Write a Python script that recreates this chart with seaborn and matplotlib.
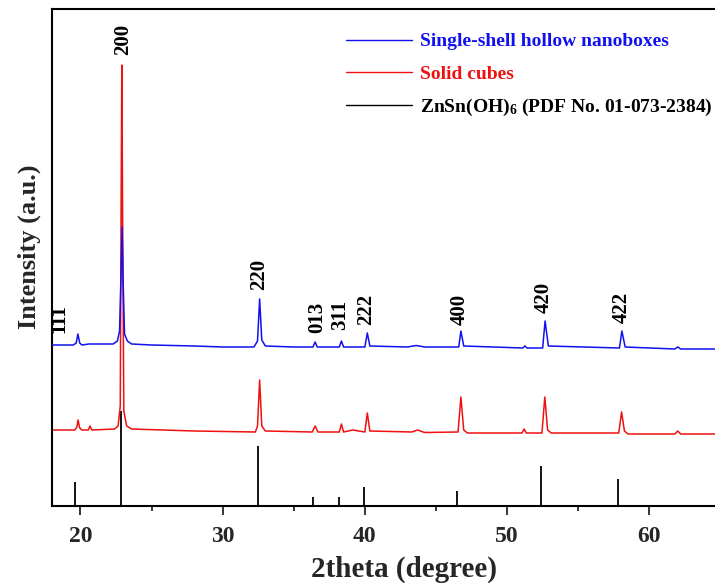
import numpy as np
import pandas as pd
import matplotlib
matplotlib.use("Agg")
import matplotlib.pyplot as plt
from matplotlib.lines import Line2D
from matplotlib.ticker import MultipleLocator
import seaborn as sns

# ---- data (intensity in arbitrary units) ----
blue_x = [18.0, 19.5, 19.7, 19.82, 19.95, 20.1, 20.6, 22.3, 22.6, 22.75, 22.85, 22.93,
          23.0, 23.1, 23.3, 23.6, 25.0, 28.0, 30.0, 32.2, 32.45, 32.6, 32.75, 33.0,
          35.0, 36.35, 36.5, 36.65, 38.2, 38.35, 38.5, 40.0, 40.17, 40.35, 43.0, 43.6,
          44.2, 46.6, 46.75, 46.95, 51.1, 51.25, 51.4, 52.5, 52.67, 52.9, 57.9, 58.07,
          58.3, 61.8, 62.0, 62.2, 67.5]
blue_y = [161, 161, 163, 172, 163, 161, 162, 162, 165, 175, 230, 279,
          225, 172, 165, 162, 161, 160, 159, 159, 165, 207, 166, 160,
          159, 159, 164, 159, 159, 165, 159, 159, 173, 160, 159, 160.5,
          159, 159, 175, 160, 158, 160, 158, 158, 185, 160, 158, 175,
          159, 157, 159, 157, 157]

red_x = [18.0, 19.6, 19.75, 19.83, 19.95, 20.1, 20.55, 20.67, 20.8, 22.4, 22.65, 22.8,
         22.86, 22.91, 22.96, 23.05, 23.25, 23.6, 28.0, 32.3, 32.45, 32.6, 32.75, 33.0,
         36.3, 36.5, 36.7, 38.2, 38.35, 38.5, 39.15, 40.0, 40.17, 40.35, 43.3, 43.7,
         44.2, 46.55, 46.75, 46.95, 47.2, 51.05, 51.2, 51.35, 52.45, 52.65, 52.85, 53.1,
         57.85, 58.05, 58.25, 58.5, 61.8, 62.0, 62.2, 67.5]
red_y = [76, 76, 79, 86, 78, 76, 76, 80, 76, 77, 80, 100,
         300, 441, 300, 95, 80, 77, 75, 74, 80, 126, 80, 75,
         74, 80, 74, 74, 82, 74, 76, 74, 93, 75, 74, 76,
         73.5, 74, 109, 76, 73, 73, 77, 73, 73, 109, 76, 73,
         73, 94, 75, 72, 72, 75, 72, 72]

pdf_pos = [19.6, 22.85, 32.45, 36.35, 38.15, 39.95, 46.5, 52.35, 57.8]
pdf_int = [24, 95, 60, 9, 9, 19, 15, 40, 27]

hkl_labels = ["111", "200", "220", "013", "311", "222", "400", "420", "422"]
hkl_x = [18.53, 22.99, 32.53, 36.64, 38.23, 40.11, 46.64, 52.6, 58.08]
hkl_y = [173, 451, 216, 173, 176, 181, 181, 193, 183]

series_names = ["Single-shell hollow nanoboxes", "Solid cubes",
                "ZnSn(OH)$_6$ (PDF No. 01-073-2384)"]
series_colors = ["#1010f0", "#f01010", "black"]

sns.set_theme(style="ticks")
plt.rcParams["font.family"] = ["Liberation Serif", "DejaVu Serif"]
plt.rcParams["font.weight"] = "bold"
plt.rcParams["mathtext.fontset"] = "custom"
plt.rcParams["mathtext.rm"] = "Liberation Serif:bold"
plt.rcParams["mathtext.it"] = "Liberation Serif:bold"
plt.rcParams["mathtext.bf"] = "Liberation Serif:bold"

fig = plt.figure(figsize=(7.15, 5.83), dpi=100)
ax = fig.add_axes([52 / 715, 77 / 583, 704 / 715, 497 / 583])

blue_df = pd.DataFrame({"x": blue_x, "y": blue_y})
red_df = pd.DataFrame({"x": red_x, "y": red_y})

ax.vlines(pdf_pos, 0, pdf_int, color="black", lw=1.3, zorder=1)
sns.lineplot(data=red_df, x="x", y="y", color=series_colors[1], lw=1.1,
             estimator=None, sort=False, ax=ax, zorder=2)
sns.lineplot(data=blue_df, x="x", y="y", color=series_colors[0], lw=1.1,
             estimator=None, sort=False, ax=ax, zorder=3)

for lab, lx, ly in zip(hkl_labels, hkl_x, hkl_y):
    ax.text(lx, ly, lab, rotation=90, ha="center", va="bottom",
            fontsize=15, fontweight="bold", color="black")

ax.set_xlim(18, 67.5)
ax.set_ylim(0, 497)
ax.xaxis.set_major_locator(MultipleLocator(10))
ax.xaxis.set_minor_locator(MultipleLocator(5))
ax.set_yticks([])
ax.tick_params(axis="x", which="major", direction="out", length=6.5, width=1.3,
               labelsize=17, pad=8)
ax.tick_params(axis="x", which="minor", direction="out", length=3.5, width=1.3)
for lab in ax.get_xticklabels():
    lab.set_fontweight("bold")
for sp in ax.spines.values():
    sp.set_linewidth(1.5)
    sp.set_color("black")

ax.set_xlabel("2theta (degree)", fontsize=21, fontweight="bold", labelpad=6)
ax.set_ylabel("Intensity (a.u.)", fontsize=19, fontweight="bold")
ax.yaxis.set_label_coords(-0.016, 0.521)

handles = [Line2D([], [], color=c, lw=1.0) for c in series_colors]
ax.legend(handles, series_names, loc="upper left",
          bbox_to_anchor=(338 / 715, 1 - 25 / 583), bbox_transform=fig.transFigure,
          frameon=False, handlelength=3.4, handletextpad=0.4, labelspacing=0.75,
          borderaxespad=0, prop={"family": "Liberation Serif", "weight": "bold", "size": 14},
          labelcolor=series_colors)

fig.savefig("out.png", dpi=100)
